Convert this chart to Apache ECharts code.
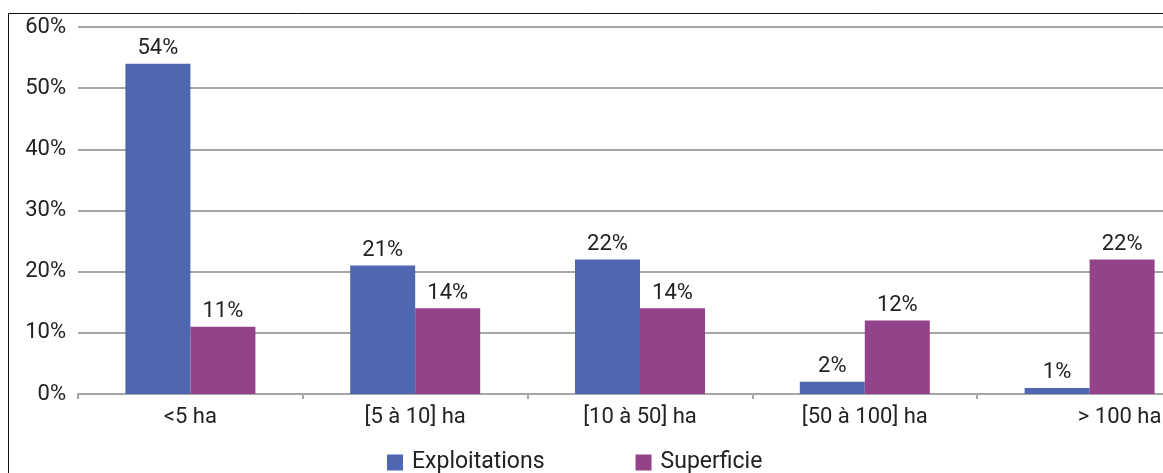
<!DOCTYPE html>
<html><head><meta charset="utf-8">
<script src="https://cdn.jsdelivr.net/npm/echarts@6/dist/echarts.min.js"></script>
<style>html,body{margin:0;padding:0;background:#fff;}#c{width:1163px;height:473px;}</style>
</head><body><div id="c"></div>
<script>
const categories = ['<5 ha', '[5 à 10] ha', '[10 à 50] ha', '[50 à 100] ha', '> 100 ha'];
const exploitations = [54, 21, 22, 2, 1];
const superficie = [11, 14, 14, 12, 22];
const yTicks = [0, 10, 20, 30, 40, 50, 60];
const FONT = 'Roboto, "Liberation Sans", sans-serif';
const lastIdx = categories.length - 1;
const catData = categories.map((c, i) => i === lastIdx ? {value: c, textStyle: {padding: [0, 0, 0, 60]}} : c);
const chart = echarts.init(document.getElementById('c'));
chart.setOption({
  animation: false,
  textStyle: {fontFamily: FONT},
  graphic: [{type: 'rect', shape: {x: 8.5, y: 13.5, width: 1200, height: 500}, style: {fill: 'none', stroke: '#111', lineWidth: 1}, z: 100}],
  grid: {left: 78, top: 27, width: 1124, height: 367, containLabel: false, outerBoundsMode: 'none'},
  legend: {
    bottom: -6, left: 382, itemGap: 91, itemWidth: 16, itemHeight: 16, icon: 'rect',
    textStyle: {fontFamily: FONT, fontSize: 23, color: '#222', padding: [0,0,0,4]},
    data: ['Exploitations', 'Superficie']
  },
  xAxis: {
    type: 'category', data: catData,
    axisLine: {lineStyle: {color: '#a6a6a6', width: 2}},
    axisTick: {show: true, length: 5, lineStyle: {color: '#a6a6a6', width: 2}},
    axisLabel: {fontFamily: FONT, fontSize: 22, color: '#222', margin: 12}
  },
  yAxis: {
    type: 'value', min: yTicks[0], max: yTicks[yTicks.length-1], interval: 10,
    axisLine: {show: false}, axisTick: {show: false},
    splitLine: {lineStyle: {color: '#a6a6a6', width: 2}},
    axisLabel: {fontFamily: FONT, fontSize: 22, color: '#222', margin: 12, formatter: v => v + '%'}
  },
  series: [
    {name: 'Exploitations', type: 'bar', data: exploitations, barWidth: 65, barGap: '0%',
     itemStyle: {color: '#4F67B1'},
     label: {show: true, position: 'top', fontFamily: FONT, fontSize: 22, color: '#222', distance: 4, formatter: p => p.value + '%'}},
    {name: 'Superficie', type: 'bar', data: superficie, barWidth: 65,
     itemStyle: {color: '#94428A'},
     label: {show: true, position: 'top', fontFamily: FONT, fontSize: 22, color: '#222', distance: 4, formatter: p => p.value + '%'}}
  ]
});
</script></body></html>
